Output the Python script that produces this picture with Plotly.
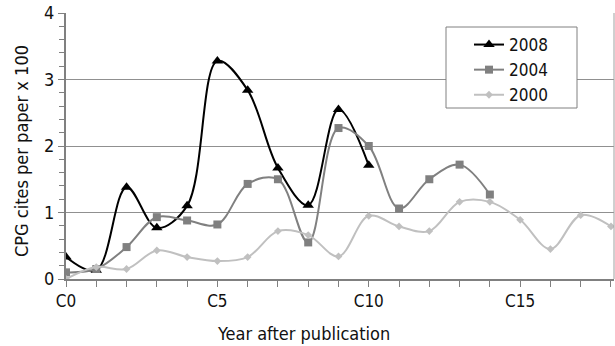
import plotly.graph_objects as go

years = list(range(0, 19))
tick_labels = ["C0", "", "", "", "", "C5", "", "", "", "", "C10", "", "", "", "", "C15", "", "", ""]

y2008 = [0.33, 0.13, 1.38, 0.77, 1.10, 3.28, 2.84, 1.67, 1.11, 2.55, 1.71]
y2004 = [0.10, 0.15, 0.48, 0.93, 0.88, 0.82, 1.43, 1.50, 0.55, 2.27, 2.00, 1.06, 1.50, 1.72, 1.27]
y2000 = [0.00, 0.18, 0.15, 0.43, 0.33, 0.27, 0.33, 0.72, 0.66, 0.34, 0.95, 0.79, 0.72, 1.16, 1.16, 0.89, 0.45, 0.96, 0.79]

FONT = "DejaVu Sans Condensed, DejaVu Sans"

# plot area in page pixels: x 66..614, y 13..279
PX0, PX1, PY0, PY1 = 66, 614, 13, 279
def px(x):
    return (x - PX0) / (PX1 - PX0)
def py(y):
    return (PY1 - y) / (PY1 - PY0)

fig = go.Figure()
fig.add_trace(go.Scatter(x=years[:len(y2008)], y=y2008, name="2008", mode="lines+markers",
                         line=dict(color="#000000", width=2, shape="spline", smoothing=1),
                         marker=dict(symbol="triangle-up", size=10, color="#000000")))
fig.add_trace(go.Scatter(x=years[:len(y2004)], y=y2004, name="2004", mode="lines+markers",
                         line=dict(color="#808080", width=2, shape="spline", smoothing=1),
                         marker=dict(symbol="square", size=8, color="#808080")))
fig.add_trace(go.Scatter(x=years[:len(y2000)], y=y2000, name="2000", mode="lines+markers",
                         line=dict(color="#c0c0c0", width=2, shape="spline", smoothing=1),
                         marker=dict(symbol="diamond", size=6, color="#c0c0c0")))

fig.update_layout(
    width=615, height=346,
    margin=dict(l=PX0, r=615 - PX1, t=PY0, b=346 - PY1, autoexpand=False),
    paper_bgcolor="white", plot_bgcolor="white",
    font=dict(family=FONT, size=17, color="#111111"),
    showlegend=True,
    legend=dict(x=px(469), y=py(27), xanchor="left", yanchor="top",
                bgcolor="rgba(0,0,0,0)", borderwidth=0,
                font=dict(family=FONT, size=17, color="#111111"),
                itemwidth=30, tracegroupgap=0),
)
fig.update_xaxes(
    range=[0, 18.1], tickmode="array", tickvals=years, ticktext=tick_labels,
    ticks="outside", ticklen=6, tickcolor="#808080", tickwidth=1,
    showline=True, linecolor="#808080", linewidth=2, mirror=False,
    showgrid=False, zeroline=False, automargin=False,
    tickfont=dict(family=FONT, size=17),
)
fig.update_yaxes(
    range=[0, 4], tickvals=[0, 1, 2, 3, 4],
    ticks="outside", ticklen=6, tickcolor="#808080", tickwidth=1,
    minor=dict(dtick=0.2, ticks="outside", ticklen=5, tickcolor="#808080", showgrid=False),
    showline=True, linecolor="#808080", linewidth=2,
    showgrid=True, gridcolor="#909090", gridwidth=1, zeroline=False, automargin=False,
    tickfont=dict(family=FONT, size=18),
)
fig.add_annotation(text="Year after publication", xref="paper", yref="paper",
                   x=px(303), y=py(333), xanchor="center", yanchor="middle",
                   showarrow=False, font=dict(family=FONT, size=18))
fig.add_annotation(text="CPG cites per paper x 100", xref="paper", yref="paper",
                   x=px(21), y=py(151), xanchor="center", yanchor="middle",
                   textangle=-90, showarrow=False, font=dict(family=FONT, size=18))
# right border of plot area
fig.add_shape(type="line", xref="paper", yref="paper", x0=1, x1=1, y0=0, y1=1,
              line=dict(color="#a0a0a0", width=1))
# legend frame
fig.add_shape(type="rect", xref="paper", yref="paper", layer="above",
              x0=px(446), x1=px(577), y0=py(108), y1=py(27),
              fillcolor="white", line=dict(color="#808080", width=1))

fig.write_html("out.html", post_script="document.body.style.margin='0';",
               config={"displayModeBar": False})
